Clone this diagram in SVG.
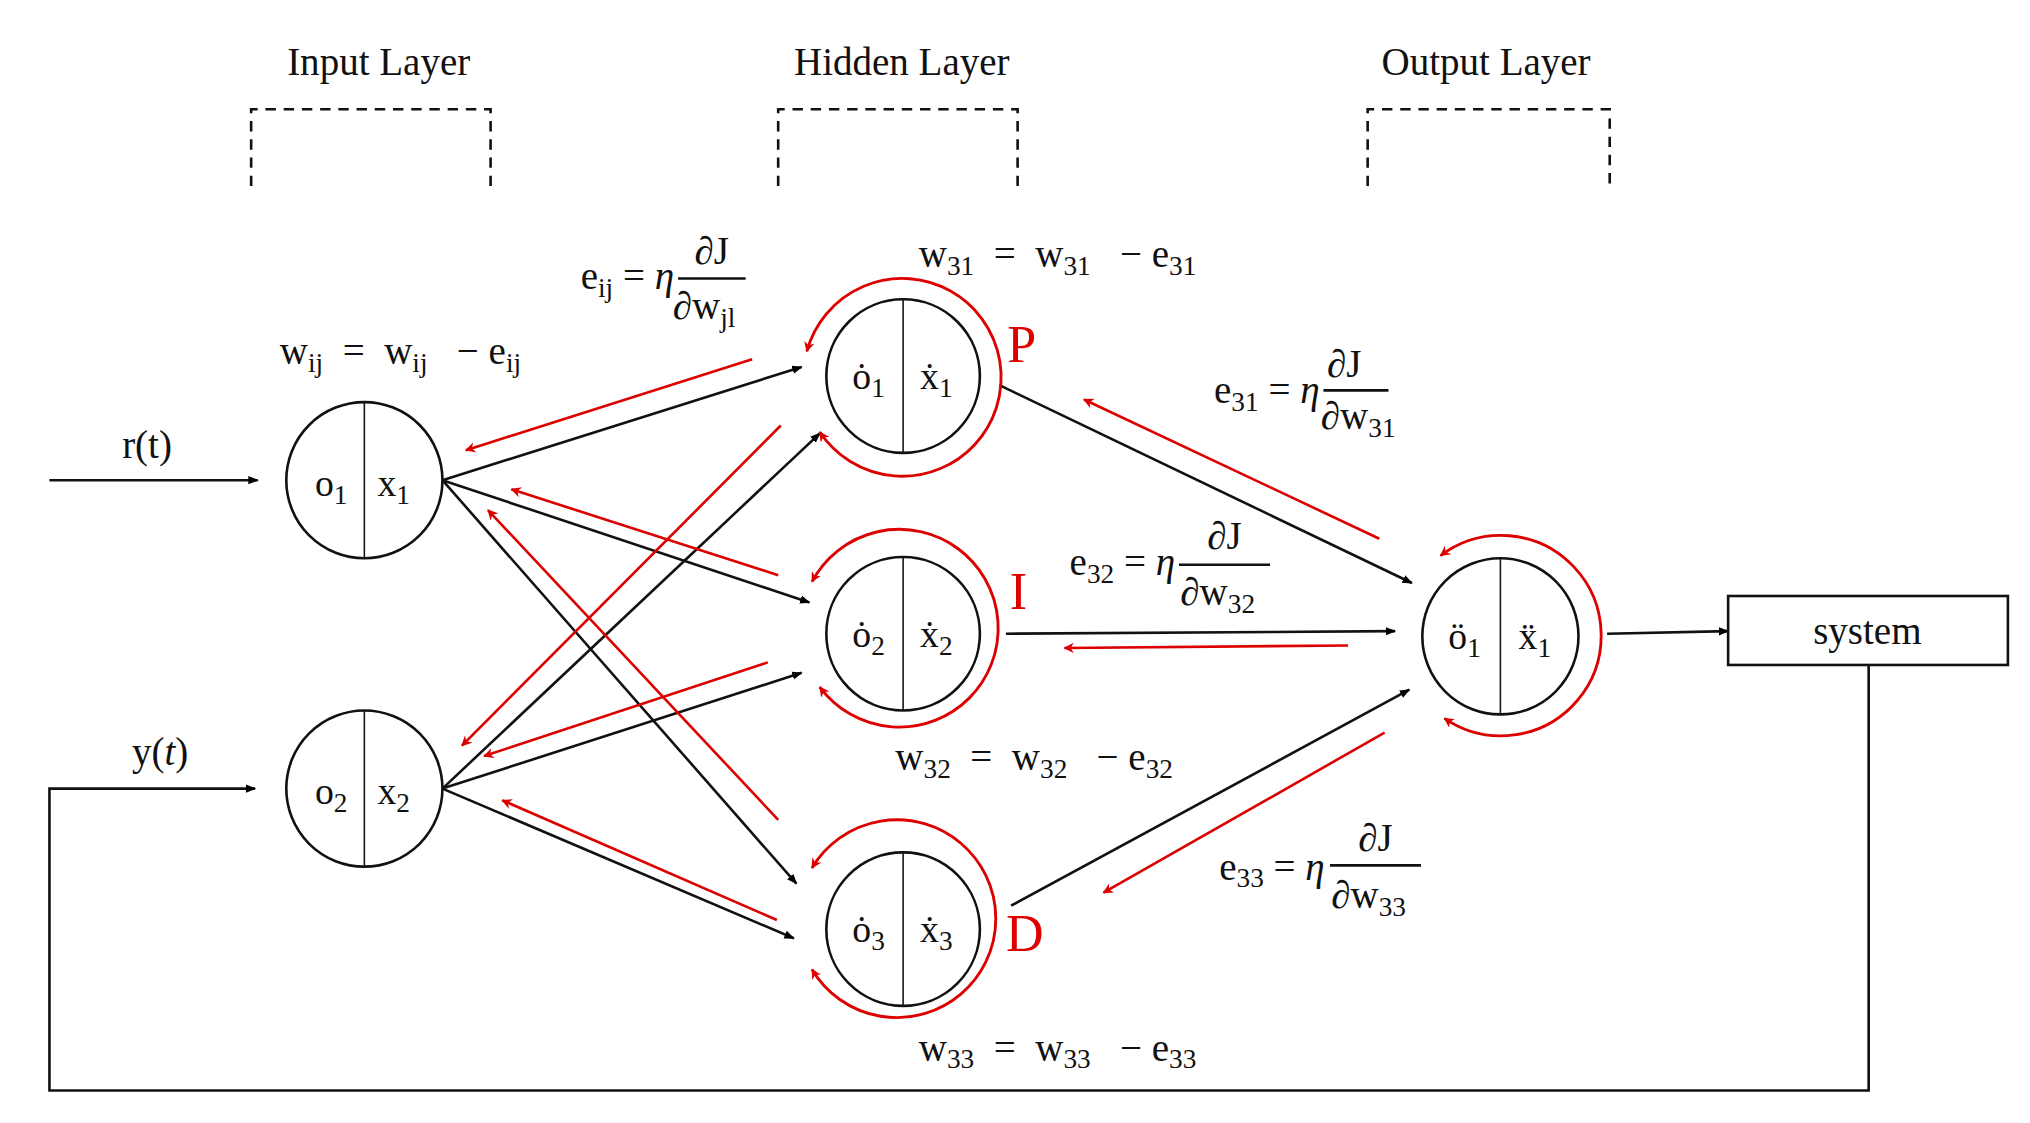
<svg xmlns="http://www.w3.org/2000/svg" width="2030" height="1123" viewBox="0 0 2030 1123">
<defs>
<marker id="ab" viewBox="0 0 10 10" refX="9" refY="5" markerWidth="8" markerHeight="8" markerUnits="userSpaceOnUse" orient="auto"><path d="M0,1 L10,5 L0,9 z" fill="#000"/></marker>
<marker id="ar" viewBox="0 0 10 10" refX="9" refY="5" markerWidth="8" markerHeight="8" markerUnits="userSpaceOnUse" orient="auto-start-reverse"><path d="M0,0 L10,5 L0,10 L3,5 z" fill="#d00"/></marker>
<style>
text{font-family:"Liberation Serif","DejaVu Serif",serif;fill:#111;white-space:pre}
.lab{font-size:30px}
.f{font-size:30px}
.n{font-size:29px}
.s{font-size:21px}
.red{fill:#d00;font-size:40px}
.blk{stroke:#111;stroke-width:2;fill:none;marker-end:url(#ab)}
.rd{stroke:#d00;stroke-width:2;fill:none;marker-end:url(#ar)}
.loop{stroke:#d00;stroke-width:2.2;fill:none;marker-start:url(#ar);marker-end:url(#ar)}
.c{fill:#fff;stroke:#111;stroke-width:2}
.dv{stroke:#111;stroke-width:1.2}
.dash{stroke:#111;stroke-width:2;fill:none;stroke-dasharray:8,6}
</style>
</defs>
<rect width="2030" height="1123" fill="#fff"/>
<g transform="scale(1.3013)">
<g id="labels">
<text class="lab" x="291" y="58" text-anchor="middle">Input Layer</text>
<text class="lab" x="693" y="58" text-anchor="middle">Hidden Layer</text>
<text class="lab" x="1142" y="58" text-anchor="middle">Output Layer</text>
<path class="dash" d="M193,143 V84 H377 V143"/>
<path class="dash" d="M598,143 V84 H782 V143"/>
<path class="dash" d="M1051,143 V84 H1237 V143"/>
<text class="red" x="774" y="278">P</text>
<text class="red" x="776" y="468">I</text>
<text class="red" x="773" y="731">D</text>
</g>
<g id="connectors">
<line class="blk" x1="38" y1="369" x2="198" y2="369"/>
<path class="blk" d="M1436,511 V838 H38 V606 H196"/>
<line class="blk" x1="340" y1="369" x2="616" y2="282"/>
<line class="blk" x1="340" y1="369" x2="622" y2="463"/>
<line class="blk" x1="340" y1="369" x2="612" y2="679"/>
<line class="blk" x1="340" y1="606" x2="630" y2="333"/>
<line class="blk" x1="340" y1="606" x2="616" y2="517"/>
<line class="blk" x1="340" y1="606" x2="610" y2="721"/>
<line class="blk" x1="768" y1="296" x2="1085" y2="448"/>
<line class="blk" x1="773" y1="487" x2="1072" y2="485"/>
<line class="blk" x1="777" y1="696" x2="1083" y2="530"/>
<line class="blk" x1="1235" y1="487" x2="1328" y2="485"/>
<line class="rd" x1="578" y1="276" x2="358" y2="346"/>
<line class="rd" x1="598" y1="442" x2="393" y2="376"/>
<line class="rd" x1="598" y1="630" x2="375" y2="392"/>
<line class="rd" x1="600" y1="327" x2="355" y2="573"/>
<line class="rd" x1="590" y1="509" x2="372" y2="581"/>
<line class="rd" x1="597" y1="707" x2="386" y2="615"/>
<line class="rd" x1="1060" y1="414" x2="833" y2="307"/>
<line class="rd" x1="1036" y1="496" x2="818" y2="498"/>
<line class="rd" x1="1064" y1="563" x2="848" y2="686"/>
<path class="loop" d="M620,270 A76,76 0 1 1 630,332"/>
<path class="loop" d="M624,447 A76,76 0 1 1 630,528"/>
<path class="loop" d="M624,667 A76,76 0 1 1 624,745"/>
<path class="loop" d="M1107,427 A77,77 0 1 1 1110,552"/>
</g>
<g id="in1"><circle class="c" cx="280" cy="369" r="60"/><line class="dv" x1="280" y1="309" x2="280" y2="429"/><text class="n" x="242" y="381">o<tspan class="s" dy="6">1</tspan></text><text class="n" x="290" y="381">x<tspan class="s" dy="6">1</tspan></text></g>
<g id="in2"><circle class="c" cx="280" cy="606" r="60"/><line class="dv" x1="280" y1="546" x2="280" y2="666"/><text class="n" x="242" y="618">o<tspan class="s" dy="6">2</tspan></text><text class="n" x="290" y="618">x<tspan class="s" dy="6">2</tspan></text></g>
<g id="h1"><circle class="c" cx="694" cy="289" r="59"/><line class="dv" x1="694" y1="230" x2="694" y2="348"/><text class="n" x="655" y="299">ȯ<tspan class="s" dy="6">1</tspan></text><text class="n" x="707" y="299">ẋ<tspan class="s" dy="6">1</tspan></text></g>
<g id="h2"><circle class="c" cx="694" cy="487" r="59"/><line class="dv" x1="694" y1="428" x2="694" y2="546"/><text class="n" x="655" y="497">ȯ<tspan class="s" dy="6">2</tspan></text><text class="n" x="707" y="497">ẋ<tspan class="s" dy="6">2</tspan></text></g>
<g id="h3"><circle class="c" cx="694" cy="714" r="59"/><line class="dv" x1="694" y1="655" x2="694" y2="773"/><text class="n" x="655" y="724">ȯ<tspan class="s" dy="6">3</tspan></text><text class="n" x="707" y="724">ẋ<tspan class="s" dy="6">3</tspan></text></g>
<g id="out"><circle class="c" cx="1153" cy="489" r="60"/><line class="dv" x1="1153" y1="429" x2="1153" y2="549"/><text class="n" x="1113" y="499">ö<tspan class="s" dy="6">1</tspan></text><text class="n" x="1167" y="499">ẍ<tspan class="s" dy="6">1</tspan></text></g>
<g id="system"><rect x="1328" y="458" width="215" height="53" fill="#fff" stroke="#111" stroke-width="2"/><text class="lab" x="1435" y="495" text-anchor="middle">system</text></g>
<g id="formulas">
<text class="lab" x="113" y="352" text-anchor="middle">r(t)</text>
<text class="lab" x="123" y="588" text-anchor="middle">y(<tspan font-style="italic">t</tspan>)</text>
<text class="f" x="215" y="280">w<tspan class="s" dy="6">ij</tspan><tspan dy="-6">  =  w</tspan><tspan class="s" dy="6">ij</tspan><tspan dy="-6">   − e</tspan><tspan class="s" dy="6">ij</tspan></text>
<text class="f" x="518" y="222" text-anchor="end">e<tspan class="s" dy="6">ij</tspan><tspan dy="-6"> = </tspan><tspan font-style="italic">η</tspan></text>
<line x1="521" y1="214" x2="573" y2="214" stroke="#111" stroke-width="2"/>
<text class="f" x="547" y="203" text-anchor="middle">∂J</text>
<text class="f" x="517" y="245">∂w<tspan class="s" dy="6">jl</tspan></text>
<text class="f" x="706" y="205">w<tspan class="s" dy="6">31</tspan><tspan dy="-6">  =  w</tspan><tspan class="s" dy="6">31</tspan><tspan dy="-6">   − e</tspan><tspan class="s" dy="6">31</tspan></text>
<text class="f" x="1014" y="310" text-anchor="end">e<tspan class="s" dy="6">31</tspan><tspan dy="-6"> = </tspan><tspan font-style="italic">η</tspan></text>
<line x1="1017" y1="300" x2="1067" y2="300" stroke="#111" stroke-width="2"/>
<text class="f" x="1033" y="290" text-anchor="middle">∂J</text>
<text class="f" x="1015" y="330">∂w<tspan class="s" dy="6">31</tspan></text>
<text class="f" x="903" y="442" text-anchor="end">e<tspan class="s" dy="6">32</tspan><tspan dy="-6"> = </tspan><tspan font-style="italic">η</tspan></text>
<line x1="906" y1="434" x2="976" y2="434" stroke="#111" stroke-width="2"/>
<text class="f" x="941" y="422" text-anchor="middle">∂J</text>
<text class="f" x="907" y="465">∂w<tspan class="s" dy="6">32</tspan></text>
<text class="f" x="688" y="592">w<tspan class="s" dy="6">32</tspan><tspan dy="-6">  =  w</tspan><tspan class="s" dy="6">32</tspan><tspan dy="-6">   − e</tspan><tspan class="s" dy="6">32</tspan></text>
<text class="f" x="1018" y="676" text-anchor="end">e<tspan class="s" dy="6">33</tspan><tspan dy="-6"> = </tspan><tspan font-style="italic">η</tspan></text>
<line x1="1022" y1="665" x2="1092" y2="665" stroke="#111" stroke-width="2"/>
<text class="f" x="1057" y="654" text-anchor="middle">∂J</text>
<text class="f" x="1023" y="698">∂w<tspan class="s" dy="6">33</tspan></text>
<text class="f" x="706" y="815">w<tspan class="s" dy="6">33</tspan><tspan dy="-6">  =  w</tspan><tspan class="s" dy="6">33</tspan><tspan dy="-6">   − e</tspan><tspan class="s" dy="6">33</tspan></text>
</g>
</g>
</svg>
